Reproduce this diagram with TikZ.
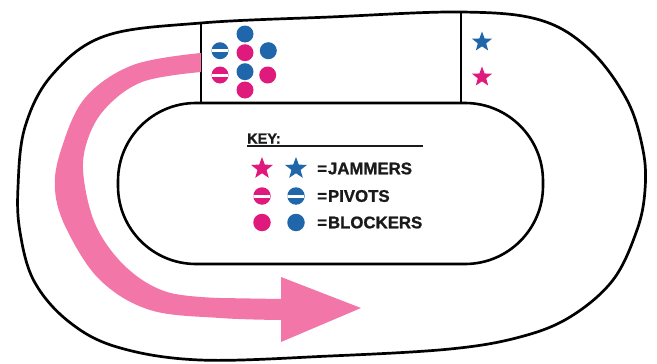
\documentclass[tikz,border=0pt]{standalone}
\usepackage{fontspec}
\setmainfont{Liberation Sans}
\newfontfamily\keyfont[FakeBold=1.2]{Liberation Sans Bold}
\usetikzlibrary{shapes.geometric}
\definecolor{arrowpink}{HTML}{F277A8}
\definecolor{teamA}{HTML}{E0197D}
\definecolor{teamB}{HTML}{1F66AB}
\definecolor{ink}{HTML}{1A1A1A}
\begin{document}
\begin{tikzpicture}[x=1pt,y=-1pt,
  track/.style={draw=black, line width=2.7pt},
  boxline/.style={draw=black, line width=1.8pt},
  blocker/.style={circle, fill=#1, minimum size=17pt, inner sep=0pt},
  pivot/.style={circle, fill=#1, minimum size=17pt, inner sep=0pt,
    path picture={\fill[white] ([yshift=-1.5pt]path picture bounding box.west) rectangle ([yshift=1.5pt]path picture bounding box.east);}},
  keyblocker/.style={blocker=#1, minimum size=17.5pt},
  keypivot/.style={pivot=#1, minimum size=17.5pt},
  jammer/.style={star, star points=5, star point ratio=2.4, fill=#1, minimum size=21pt, inner sep=0pt},
  keytext/.style={font=\keyfont\fontsize{16.8}{19}\selectfont, text=ink, anchor=west, inner sep=0pt}
]
\useasboundingbox (0,0) rectangle (657,364);
% outer track
\draw[track] plot[smooth cycle, tension=0.6] coordinates {(201,23) (105,36) (52,75) (25,127) (18,187) (20,232) (34,281) (68,321) (117,347) (200,360) (330,356) (450,349) (520,337) (570,317) (613,280) (637,230) (645,190) (643,150) (627,100) (590,50) (540,20) (461,12) (330,17)};
% inner track
\draw[track, line width=2.6pt, rounded corners=78pt] (118,103) rectangle (543,264);
% pack box
\coordinate (bl1) at (201,22);
\coordinate (bl2) at (201,103);
\coordinate (br1) at (461,12);
\coordinate (br2) at (461,103);
\draw[boxline] (bl1) -- (bl2);
\draw[boxline] (br1) -- (br2);
% direction arrow
\fill[arrowpink] plot[smooth, tension=0.6] coordinates {(201,53) (133,65) (85,98) (61,150) (55,190) (67,230) (100,280) (150,310) (220,318) (281,320)}
  -- (281,342) -- (361,308) -- (281,277) -- (281,299)
  -- plot[smooth, tension=0.6] coordinates {(220,298) (167,292) (127,268) (97,228) (84,180) (86,145) (104,110) (142,82) (201,72)} -- cycle;
% players in the pack
\node[pivot=teamB] (pb) at (220,50.7) {};
\node[pivot=teamA] (pa) at (220,75) {};
\node[blocker=teamB] (b1) at (245,34) {};
\node[blocker=teamA] (a1) at (245,52.7) {};
\node[blocker=teamB] (b2) at (245,71.7) {};
\node[blocker=teamA] (a2) at (245,90) {};
\node[blocker=teamB] (b3) at (268.3,50.7) {};
\node[blocker=teamA] (a3) at (267.7,75) {};
% jammers
\node[jammer=teamB] (jb) at (482,42) {};
\node[jammer=teamA] (ja) at (482,77) {};
% key
\node[font=\keyfont\fontsize{14.5}{16}\selectfont, text=ink, anchor=base west, inner sep=0pt] (keylabel) at (247,143.5) {KEY:};
\coordinate (ulstart) at (247,146);
\coordinate (ulend) at (423,146);
\draw[ink, line width=1.2pt] (ulstart) -- (ulend);
\node[jammer=teamA, minimum size=23pt] (kja) at (262,168.5) {};
\node[jammer=teamB, minimum size=23pt] (kjb) at (296,168.5) {};
\node[keypivot=teamA] (kpa) at (262,196) {};
\node[keypivot=teamB] (kpb) at (296,196) {};
\node[keyblocker=teamA] (kba) at (262,222.5) {};
\node[keyblocker=teamB] (kbb) at (296,222.5) {};
\node[keytext] (tj) at (317,168.5) {=\hspace{1pt}JAMMERS};
\node[keytext] (tp) at (317,196) {=\hspace{1pt}PIVOTS};
\node[keytext] (tb) at (317,222.5) {=\hspace{1pt}BLOCKERS};
\end{tikzpicture}
\end{document}
